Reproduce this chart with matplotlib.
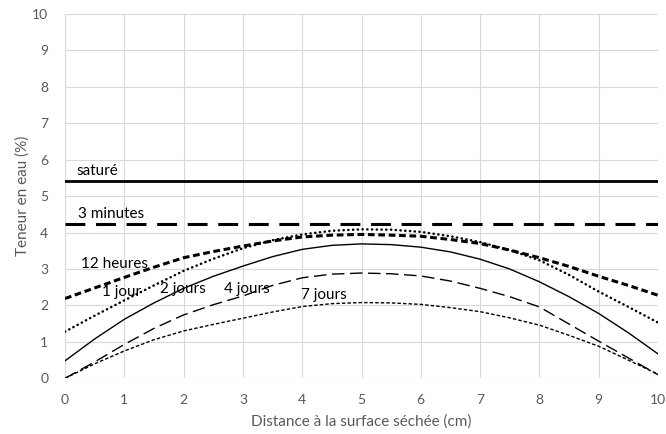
import matplotlib.pyplot as plt

plt.rcParams['font.family'] = ['Lato', 'DejaVu Sans']

x = [0, 0.5, 1, 1.5, 2, 2.5, 3, 3.5, 4, 4.5, 5, 5.5, 6, 6.5, 7, 7.5, 8, 8.5, 9, 9.5, 10]

sature = [5.43] * 21
minutes3 = [4.23] * 21
heures12 = [2.19, 2.48, 2.77, 3.05, 3.31, 3.48, 3.63, 3.77, 3.88, 3.93, 3.95,
            3.93, 3.90, 3.81, 3.70, 3.52, 3.31, 3.07, 2.80, 2.55, 2.28]
jour1 = [1.28, 1.72, 2.14, 2.55, 2.95, 3.28, 3.57, 3.79, 3.95, 4.05, 4.09,
         4.08, 4.02, 3.90, 3.74, 3.52, 3.24, 2.84, 2.38, 1.96, 1.53]
jours2 = [0.48, 1.08, 1.62, 2.07, 2.47, 2.80, 3.08, 3.34, 3.54, 3.65, 3.69,
          3.67, 3.60, 3.47, 3.27, 3.00, 2.65, 2.24, 1.78, 1.25, 0.67]
jours4 = [0.0, 0.45, 0.93, 1.37, 1.74, 2.02, 2.26, 2.55, 2.76, 2.86, 2.89,
          2.87, 2.81, 2.67, 2.47, 2.24, 1.96, 1.49, 1.02, 0.56, 0.10]
jours7 = [0.0, 0.40, 0.75, 1.06, 1.30, 1.48, 1.65, 1.82, 1.97, 2.05, 2.08,
          2.07, 2.03, 1.94, 1.83, 1.66, 1.46, 1.18, 0.88, 0.50, 0.11]

labels = ["saturé", "3 minutes", "12 heures", "1 jour", "2 jours", "4 jours", "7 jours"]
label_x = [0.2, 0.22, 0.27, 0.63, 1.6, 2.68, 3.98]
label_y = [5.68, 4.5, 3.13, 2.36, 2.45, 2.45, 2.28]

fig = plt.figure(figsize=(6.66, 4.34), dpi=100)
ax = fig.add_axes([0.0976, 0.1283, 0.8904, 0.8394])

ax.plot(x, sature, color='black', lw=2)
ax.plot(x, minutes3, color='black', lw=2.2, ls=(0, (6.5, 3.5)))
ax.plot(x, heures12, color='black', lw=2.2, ls=(0, (2.2, 1.2)))
ax.plot(x, jour1, color='black', lw=1.8, ls=(0, (0.1, 1.8)), dash_capstyle='round')
ax.plot(x, jours2, color='black', lw=1.0)
ax.plot(x, jours4, color='black', lw=1.0, ls=(0, (9, 4)))
ax.plot(x, jours7, color='black', lw=1.0, ls=(0, (2.5, 1.5)))

for t, tx, ty in zip(labels, label_x, label_y):
    ax.text(tx, ty, t, fontsize=11, va='center', ha='left', color='black')

ax.set_xlim(0, 10)
ax.set_ylim(0, 10)
ax.set_xticks(range(11))
ax.set_yticks(range(11))
ax.grid(True, color='#d9d9d9', lw=0.8)
ax.set_axisbelow(True)
for s in ax.spines.values():
    s.set_visible(False)
ax.tick_params(length=0, labelsize=10, colors='#595959')
ax.tick_params(axis='x', pad=11)
ax.tick_params(axis='y', pad=12)
ax.set_xlabel("Distance à la surface séchée (cm)", fontsize=11, color='#595959', labelpad=6)
ax.set_ylabel("Teneur en eau (%)", fontsize=11, color='#595959', labelpad=2)

fig.savefig("out.png", dpi=100)
